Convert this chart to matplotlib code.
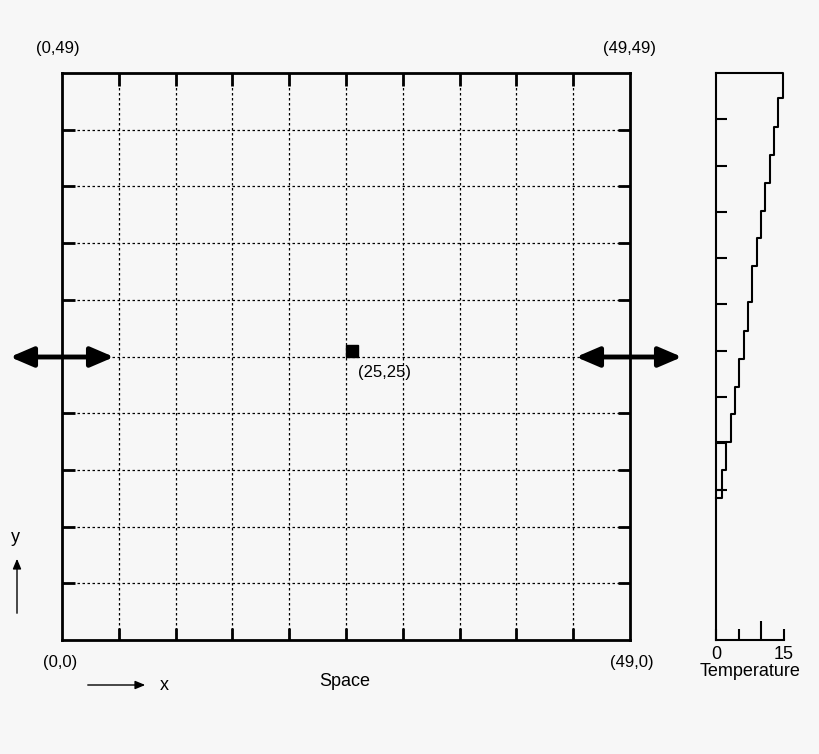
import numpy as np
import matplotlib.pyplot as plt
from matplotlib.patches import FancyArrowPatch

plt.rcParams['font.family'] = ['Liberation Sans', 'DejaVu Sans']

# temperature profile (step heights and values)
step_y = [49.0, 46.8, 44.3, 41.9, 39.5, 37.1, 34.7, 32.3, 29.2, 26.7, 24.3, 21.9, 19.5, 17.1, 14.7, 12.3]
step_t = [14.7, 13.7, 12.8, 11.9, 10.8, 9.9, 9.0, 7.9, 7.1, 6.2, 5.1, 4.2, 3.3, 2.2, 1.3]
point = (25, 25)
corners = {(0, 49): "(0,49)", (49, 49): "(49,49)", (0, 0): "(0,0)", (49, 0): "(49,0)"}

bg = "#f7f7f7"
fig = plt.figure(figsize=(8.2, 7.54), dpi=100, facecolor=bg)
W, H = 820, 754

ax = fig.add_axes([62 / W, (H - 640) / H, 568 / W, 567 / H])
ax.set_facecolor(bg)
ax.set_xlim(0, 49)
ax.set_ylim(0, 49)
grid = np.linspace(0, 49, 11)
for g in grid[1:-1]:
    ax.axvline(g, color="black", lw=0.9, ls=(0, (2, 2)))
    ax.axhline(g, color="black", lw=0.9, ls=(0, (2, 2)))
ax.set_xticks(grid[1:-1])
ax.set_yticks(grid[1:-1])
ax.tick_params(direction="in", length=9, width=2, top=True, right=True,
               labelbottom=False, labelleft=False)
for s in ax.spines.values():
    s.set_linewidth(2)
ax.plot(*point, marker="s", color="black", ms=8)
ax.text(point[0] + 0.5, point[1] - 1.2, "(25,25)", fontsize=12, va="top", ha="left")

# corner labels
fig.text(58 / W, 1 - 48 / H, corners[(0, 49)], ha="center", va="center", fontsize=12)
fig.text(630 / W, 1 - 48 / H, corners[(49, 49)], ha="center", va="center", fontsize=12)
fig.text(60 / W, 1 - 663 / H, corners[(0, 0)], ha="center", va="center", fontsize=12)
fig.text(632 / W, 1 - 663 / H, corners[(49, 0)], ha="center", va="center", fontsize=12)
fig.text(345 / W, 1 - 682 / H, "Space", ha="center", va="center", fontsize=13)

# double arrows
for x0, x1 in [(10, 114), (576, 682)]:
    fig.add_artist(FancyArrowPatch(
        (x0 / W, 1 - 357 / H), (x1 / W, 1 - 357 / H), transform=fig.transFigure,
        arrowstyle="<|-|>,head_length=14,head_width=6", lw=3.5, color="black",
        shrinkA=0, shrinkB=0))

# axis direction hints
fig.add_artist(FancyArrowPatch(
    (85 / W, 1 - 685 / H), (148 / W, 1 - 685 / H), transform=fig.transFigure,
    arrowstyle="-|>,head_length=6,head_width=2.5", lw=1, color="black"))
fig.text(164 / W, 1 - 686 / H, "x", ha="center", va="center", fontsize=13)
fig.add_artist(FancyArrowPatch(
    (17 / W, 1 - 616 / H), (17 / W, 1 - 556 / H), transform=fig.transFigure,
    arrowstyle="-|>,head_length=6,head_width=2.5", lw=1, color="black"))
fig.text(15 / W, 1 - 537 / H, "y", ha="center", va="center", fontsize=13)

# temperature panel
tx = fig.add_axes([716 / W, (H - 640) / H, 68 / W, 567 / H])
tx.set_facecolor(bg)
tx.set_xlim(0, 15)
tx.set_ylim(0, 49)
for s in ["top", "right"]:
    tx.spines[s].set_visible(False)
tx.spines["left"].set_linewidth(1.5)
tx.spines["bottom"].set_linewidth(1.5)
xs, ys = [0], [step_y[0]]
for i, t in enumerate(step_t):
    xs += [t, t]
    ys += [step_y[i], step_y[i + 1]]
xs.append(0)
ys.append(step_y[-1])
tx.plot(xs, ys, color="black", lw=1.5, clip_on=False)
tx.plot([0, step_t[-1]], [13.0, 13.0], color="black", lw=1.5)
tx.plot([0, step_t[-2]], [17.1, 17.1], color="black", lw=1.5)
tx.set_yticks(np.arange(13, 46, 4))
tx.tick_params(axis="y", direction="in", length=8, width=1.5, labelleft=False)
tx.set_xticks([0, 5, 10, 15])
tx.set_xticklabels(["0", "", "", "15"], fontsize=13)
tx.tick_params(axis="x", direction="in", length=8, width=1.5, pad=4)
tx.xaxis.get_major_ticks()[2].tick1line.set_markersize(14)
tx.set_xlabel("Temperature", fontsize=13, labelpad=0)

fig.savefig("out.png", dpi=100, facecolor=bg)
